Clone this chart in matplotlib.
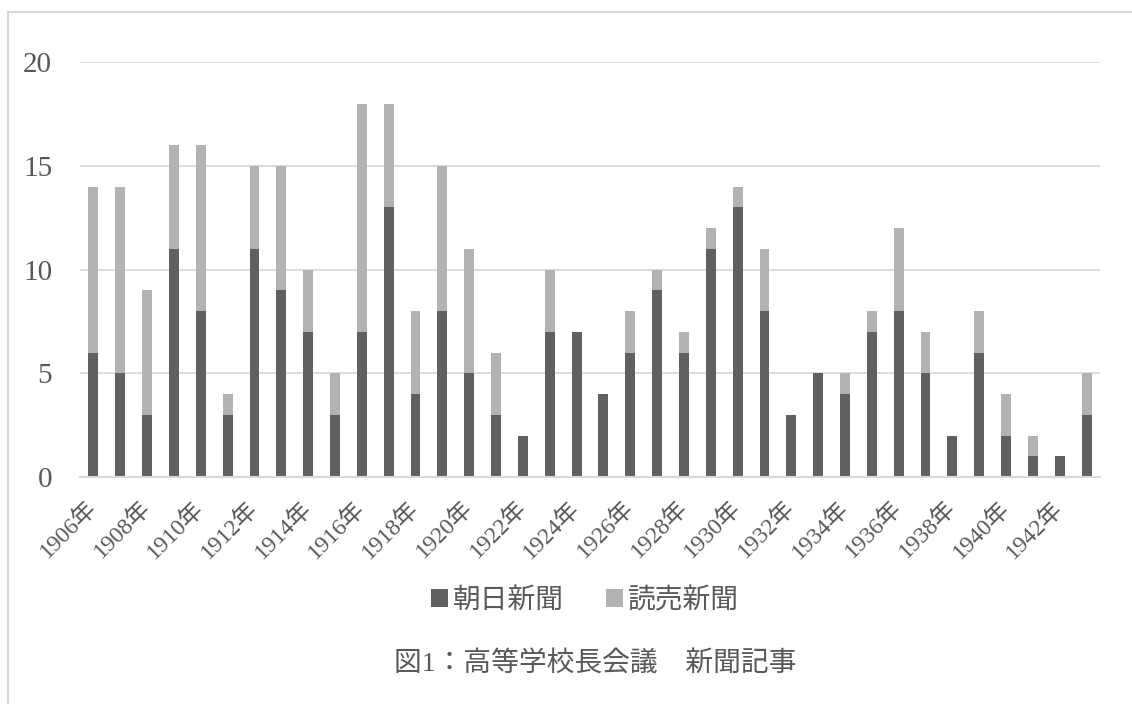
import matplotlib
matplotlib.use("Agg")
import matplotlib.pyplot as plt
from matplotlib.patches import Patch
from matplotlib.lines import Line2D
from matplotlib.transforms import ScaledTranslation

plt.rcParams['font.family'] = ['Liberation Serif', 'Noto Sans CJK JP', 'DejaVu Sans']

years = list(range(1906, 1944))
asahi = [6, 5, 3, 11, 8, 3, 11, 9, 7, 3, 7, 13, 4, 8, 5, 3, 2, 7, 7, 4,
         6, 9, 6, 11, 13, 8, 3, 5, 4, 7, 8, 5, 2, 6, 2, 1, 1, 3]
totals = [14, 14, 9, 16, 16, 4, 15, 15, 10, 5, 18, 18, 8, 15, 11, 6, 2, 10, 7, 4,
          8, 10, 7, 12, 14, 11, 3, 5, 5, 8, 12, 7, 2, 8, 4, 2, 1, 5]
yomiuri = [t - a for t, a in zip(totals, asahi)]
labels = [f"{y}年" for y in years]
series_names = ["朝日新聞", "読売新聞"]
title = "図1：高等学校長会議　新聞記事"

dark = "#606060"
light = "#b3b3b3"
txt = "#595959"
grid = "#d9d9d9"

fig = plt.figure(figsize=(11.32, 7.04), dpi=100)
ax = fig.add_axes([80/1132, 1-477/704, 1020/1132, 415/704])

x = list(range(len(years)))
w = 0.37
ax.bar(x, asahi, width=w, color=dark, zorder=3)
ax.bar(x, yomiuri, width=w, bottom=asahi, color=light, zorder=3)

ax.set_xlim(-0.5, len(years) - 0.5)
ax.set_ylim(0, 20)
ax.set_yticks([0, 5, 10, 15, 20])
ax.yaxis.grid(True, color=grid, linewidth=1.3, zorder=0)
for s in ["top", "right", "left"]:
    ax.spines[s].set_visible(False)
ax.spines["bottom"].set_color(grid)
ax.spines["bottom"].set_linewidth(1.5)
ax.spines["bottom"].set_zorder(4)
ax.tick_params(axis="both", length=0, colors=txt)
ax.tick_params(axis="y", labelsize=21, pad=20)
ax.set_xticks(x[::2])
ax.set_xticklabels(labels[::2], rotation=45, ha="right", va="center",
                   rotation_mode="anchor", fontsize=17, color=txt)
ax.tick_params(axis="x", pad=20)
shift = ScaledTranslation(0, 0, fig.dpi_scale_trans)
for t in ax.get_xticklabels():
    t.set_transform(t.get_transform() + shift)
for t in ax.get_yticklabels():
    t.set_color(txt)

handles = [Patch(facecolor=dark, edgecolor="none"), Patch(facecolor=light, edgecolor="none")]
fig.legend(handles, series_names, loc="center", bbox_to_anchor=(585/1132, 1-601/704),
           ncol=2, frameon=False, fontsize=20, labelcolor=txt,
           handlelength=0.6, handleheight=0.6, handletextpad=0.2, columnspacing=1.5)

fig.text(595/1132, 1-664/704, title, ha="center", va="center", fontsize=20, color=txt)

# outer frame lines
fig.add_artist(Line2D([8/1132, 8/1132], [0, 1-12/704], color=grid, linewidth=1.5,
                      transform=fig.transFigure))
fig.add_artist(Line2D([8/1132, 1], [1-12/704, 1-12/704], color=grid, linewidth=1.5,
                      transform=fig.transFigure))

fig.savefig("out.png", dpi=100)
